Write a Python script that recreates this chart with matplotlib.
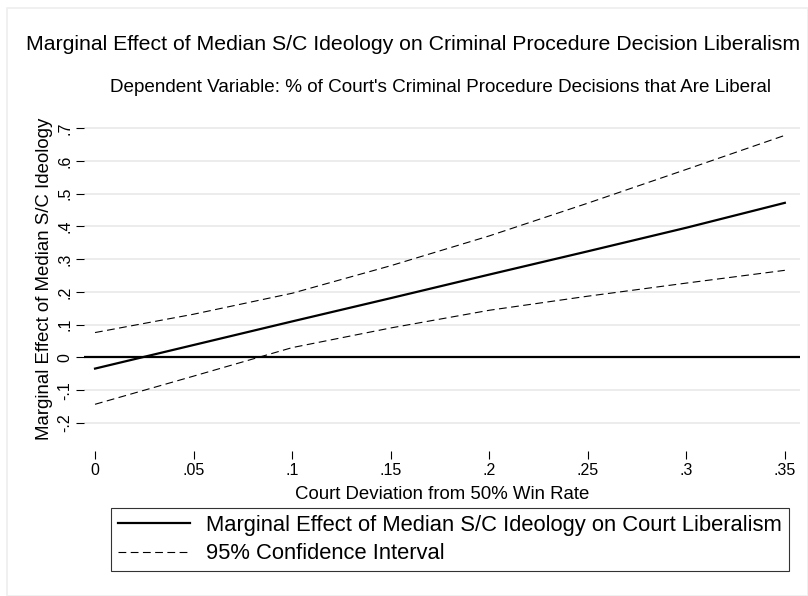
import matplotlib
matplotlib.use("Agg")
import matplotlib.pyplot as plt
from matplotlib.patches import Rectangle

plt.rcParams["font.family"] = ["Liberation Sans", "DejaVu Sans"]

# values
court_deviation = [0.0, 0.05, 0.10, 0.15, 0.20, 0.25, 0.30, 0.35]
marginal_effect = [-0.034, 0.038, 0.110, 0.181, 0.253, 0.324, 0.396, 0.472]
ci_upper = [0.076, 0.132, 0.196, 0.280, 0.371, 0.471, 0.574, 0.678]
ci_lower = [-0.143, -0.057, 0.030, 0.090, 0.144, 0.187, 0.227, 0.266]

x_ticks = [0, 0.05, 0.10, 0.15, 0.20, 0.25, 0.30, 0.35]
x_tick_labels = ["0", ".05", ".1", ".15", ".2", ".25", ".3", ".35"]
y_ticks = [-0.2, -0.1, 0, 0.1, 0.2, 0.3, 0.4, 0.5, 0.6, 0.7]
y_tick_labels = ["-.2", "-.1", "0", ".1", ".2", ".3", ".4", ".5", ".6", ".7"]

W, H = 808, 596
fig = plt.figure(figsize=(W / 100, H / 100), dpi=100)
fig.patch.set_facecolor("white")
fig.add_artist(Rectangle((7 / W, 0), 1 - 7 / W, 1 - 8 / H, transform=fig.transFigure,
                         facecolor="none", edgecolor="#eeeeee", lw=1.2))

# plot region in pixels: left 84, right 800, top 118, bottom 440
ax = fig.add_axes([84 / W, 1 - 440 / H, (800 - 84) / W, (440 - 118) / H])
ax.set_xlim(-0.0056, 0.3577)
ax.set_ylim(-0.252, 0.731)

for s in ax.spines.values():
    s.set_visible(False)
ax.spines["bottom"].set_position(("outward", 8))

for yv in y_ticks:
    ax.axhline(yv, color="#eaeaea", lw=1.3, zorder=0)
ax.axhline(0, color="black", lw=1.6, zorder=2)

ax.plot(court_deviation, marginal_effect, color="black", lw=1.6, zorder=3,
        label="Marginal Effect of Median S/C Ideology on Court Liberalism")
ax.plot(court_deviation, ci_upper, color="black", lw=0.8, dashes=(7, 4), zorder=3,
        label="95% Confidence Interval")
ax.plot(court_deviation, ci_lower, color="black", lw=0.8, dashes=(7, 4), zorder=3)

ax.set_xticks(x_ticks)
ax.set_xticklabels(x_tick_labels, fontsize=11.5)
ax.set_yticks(y_ticks)
ax.set_yticklabels(y_tick_labels, fontsize=11.5, rotation=90, va="center")
ax.tick_params(axis="both", direction="out", length=5.5, width=0.8, color="black", pad=3)

ax.set_xlabel("Court Deviation from 50% Win Rate", fontsize=13.4, labelpad=6)
ax.set_ylabel("Marginal Effect of Median S/C Ideology", fontsize=13.4, labelpad=3)

fig.text(413 / W, 1 - 45 / H,
         "Marginal Effect of Median S/C Ideology on Criminal Procedure Decision Liberalism",
         ha="center", va="center", fontsize=15.3)
fig.text(440 / W, 1 - 88 / H,
         "Dependent Variable: % of Court's Criminal Procedure Decisions that Are Liberal",
         ha="center", va="center", fontsize=13.6)

leg = fig.legend(loc="upper left", bbox_to_anchor=(111 / W, 1 - 508 / H), fontsize=15.8,
                 frameon=True, fancybox=False, edgecolor="black", handlelength=3.3,
                 borderpad=0.3, labelspacing=0.35, handletextpad=0.75, borderaxespad=0)
leg.get_frame().set_linewidth(0.8)

fig.savefig("out.png", dpi=100)
